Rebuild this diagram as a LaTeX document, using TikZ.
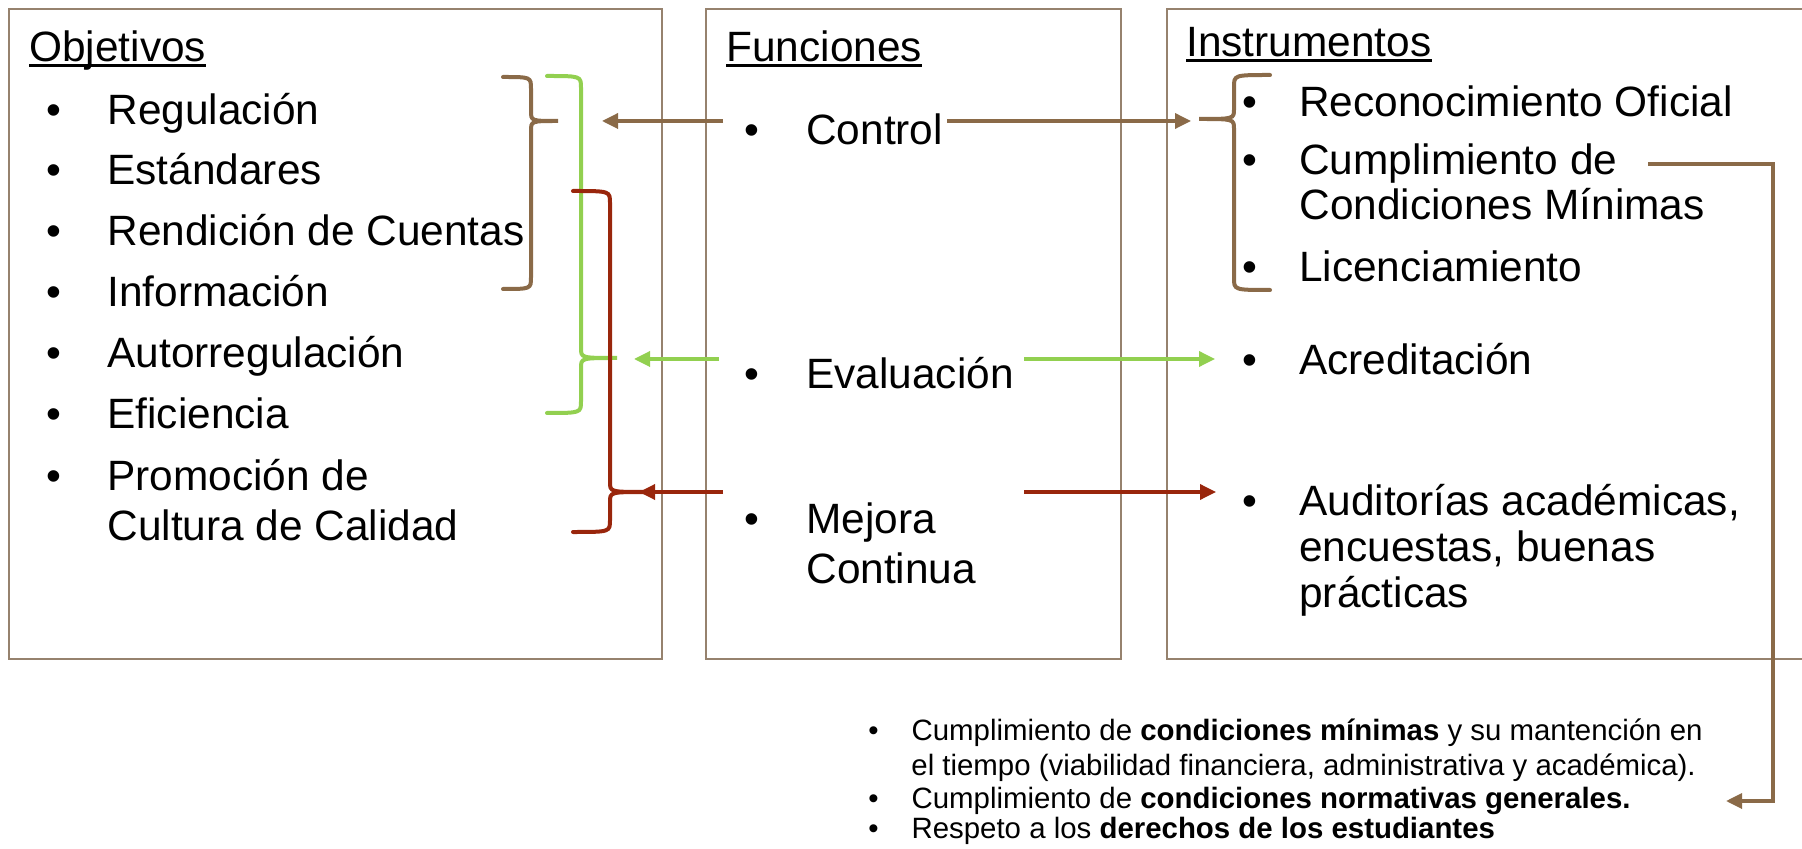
\documentclass[tikz,border=0pt]{standalone}
\usepackage{fontspec}
\setmainfont{Liberation Sans}
\usetikzlibrary{arrows.meta}

\definecolor{marron}{RGB}{138,106,72}
\definecolor{marco}{RGB}{150,130,110}
\definecolor{verde}{RGB}{146,208,80}
\definecolor{rojo}{RGB}{153,38,12}

\newlength\anchosub
\newcommand\subrayado[1]{\settowidth\anchosub{#1}\rlap{\rule[-0.12em]{\anchosub}{0.065em}}#1}
\newcommand\punto[1]{\makebox[#1][l]{\textbullet}}

\begin{document}
\begin{tikzpicture}[x=0.5pt, y=-0.5pt,
    caja/.style={draw=marco, line width=1pt},
    texto/.style={anchor=base west, inner sep=0pt, font=\fontsize{21.2}{26}\selectfont},
    nota/.style={anchor=base west, inner sep=0pt, font=\fontsize{14.7}{17}\selectfont},
    llave/.style={line width=2pt, line cap=round},
    flecha/.style={line width=1.7pt, -{Triangle[length=8pt,width=7.5pt]}}]
  \useasboundingbox (0,0) rectangle (1802,849);

  % cajas
  \draw[caja] (9,9) rectangle (662,659);
  \draw[caja] (706,9) rectangle (1121,659);
  \draw[caja] (1802,9) -- (1167,9) -- (1167,659) -- (1802,659);

  % objetivos
  \node[texto] (objetivos) at (29,62) {\subrayado{Objetivos}};
  \node[texto] (regulacion) at (46,125) {\punto{1.44em}Regulación};
  \node[texto] (estandares) at (46,185) {\punto{1.44em}Estándares};
  \node[texto] (rendicion) at (46,246) {\punto{1.44em}Rendición de Cuentas};
  \node[texto] (informacion) at (46,307) {\punto{1.44em}Información};
  \node[texto] (autorregulacion) at (46,368) {\punto{1.44em}Autorregulación};
  \node[texto] (eficiencia) at (46,429) {\punto{1.44em}Eficiencia};
  \node[texto] (promocion) at (46,490) {\punto{1.44em}Promoción de};
  \node[texto] (cultura) at (107,540) {Cultura de Calidad};

  % funciones
  \node[texto] (funciones) at (726,62) {\subrayado{Funciones}};
  \node[texto] (control) at (744,145) {\punto{1.46em}Control};
  \node[texto] (evaluacion) at (744,389) {\punto{1.46em}Evaluación};
  \node[texto] (mejora) at (744,533) {\punto{1.46em}Mejora};
  \node[texto] (continua) at (806,583) {Continua};

  % instrumentos
  \node[texto] (instrumentos) at (1186,57) {\subrayado{Instrumentos}};
  \node[texto] (reconocimiento) at (1242,117) {\punto{1.34em}Reconocimiento Oficial};
  \node[texto] (cumplimiento) at (1242,175) {\punto{1.34em}Cumplimiento de};
  \node[texto] (condiciones) at (1299,220) {Condiciones Mínimas};
  \node[texto] (licenciamiento) at (1242,282) {\punto{1.34em}Licenciamiento};
  \node[texto] (acreditacion) at (1242,375) {\punto{1.34em}Acreditación};
  \node[texto] (auditorias) at (1242,515) {\punto{1.34em}Auditorías académicas,};
  \node[texto] (encuestas) at (1299,561) {encuestas, buenas};
  \node[texto] (practicas) at (1299,607) {prácticas};

  % notas
  \node[nota] (nota1) at (868,740) {\punto{1.47em}Cumplimiento de \textbf{condiciones mínimas} y su mantención en};
  \node[nota] (nota1b) at (911,775) {el tiempo (viabilidad financiera, administrativa y académica).};
  \node[nota] (nota2) at (868,808) {\punto{1.47em}Cumplimiento de \textbf{condiciones normativas generales.}};
  \node[nota] (nota3) at (868,838) {\punto{1.47em}Respeto a los \textbf{derechos de los estudiantes}};

  % llaves
  \draw[llave, marron] (503,77) .. controls (531,77) .. (531,89) -- (531,111)
    .. controls (531,121) .. (558,121) .. controls (531,121) .. (531,131)
    -- (531,277) .. controls (531,289) .. (503,289);
  \draw[llave, verde] (547,76) .. controls (581,76) .. (581,88) -- (581,348)
    .. controls (581,358) .. (617,358) .. controls (581,358) .. (581,368)
    -- (581,401) .. controls (581,413) .. (547,413);
  \draw[llave, rojo] (573,191) .. controls (610,191) .. (610,203) -- (610,482)
    .. controls (610,492) .. (647,492) .. controls (610,492) .. (610,502)
    -- (610,520) .. controls (610,532) .. (573,532);
  \draw[llave, marron] (1270,75) .. controls (1234,75) .. (1234,87) -- (1234,109)
    .. controls (1234,119) .. (1199,119) .. controls (1234,119) .. (1234,129)
    -- (1234,278) .. controls (1234,290) .. (1270,290);

  % flechas
  \coordinate (ctrlI) at (723,121);
  \coordinate (ctrlIfin) at (602,121);
  \coordinate (ctrlD) at (947,121);
  \coordinate (ctrlDfin) at (1191,121);
  \coordinate (evalI) at (719,359);
  \coordinate (evalIfin) at (634,359);
  \coordinate (evalD) at (1024,359);
  \coordinate (evalDfin) at (1215,359);
  \coordinate (mejI) at (723,492);
  \coordinate (mejIfin) at (639,492);
  \coordinate (mejD) at (1024,492);
  \coordinate (mejDfin) at (1216,492);
  \coordinate (cumpI) at (1648,164);
  \coordinate (cumpFin) at (1726,801);

  \draw[flecha, marron] (ctrlI) -- (ctrlIfin);
  \draw[flecha, marron] (ctrlD) -- (ctrlDfin);
  \draw[flecha, verde] (evalI) -- (evalIfin);
  \draw[flecha, verde] (evalD) -- (evalDfin);
  \draw[flecha, rojo] (mejI) -- (mejIfin);
  \draw[flecha, rojo] (mejD) -- (mejDfin);
  \draw[flecha, marron] (cumpI) -- ++(125,0) |- (cumpFin);
\end{tikzpicture}
\end{document}
